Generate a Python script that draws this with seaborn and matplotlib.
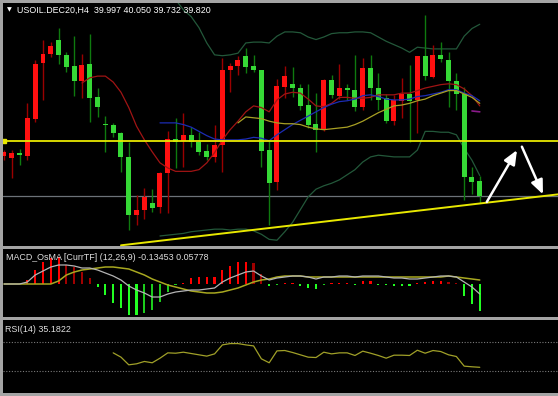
#!/usr/bin/env python
# -*- coding: utf-8 -*-
"""
USOIL.DEC20 H4 chart with MACD_OsMA and RSI panes
"""
import numpy as np
import matplotlib
matplotlib.use("Agg")
import matplotlib.pyplot as plt
import seaborn as sns

# + candles, oldest first
opens = [40.29, 40.27, 40.33, 40.29, 40.73, 41.38, 41.49, 41.66, 41.48, 41.35,
         41.17, 41.37, 40.98, 40.67, 40.66, 40.56, 40.28, 39.60, 39.66, 39.74,
         39.69, 40.09, 40.49, 40.47, 40.54, 40.46, 40.35, 40.28, 40.42, 41.30,
         41.35, 41.47, 41.35, 41.30, 40.36, 39.98, 41.10, 41.14, 41.09, 40.89,
         40.67, 40.60, 41.18, 41.00, 41.09, 41.07, 40.87, 41.33, 41.09, 40.97,
         40.70, 40.94, 41.02, 40.95, 41.47, 41.22, 41.48, 41.42, 41.17, 41.02,
         40.04, 39.997]
highs = [40.36, 40.36, 40.37, 40.91, 41.42, 41.66, 41.63, 41.80, 41.51, 41.70,
         41.49, 41.73, 41.09, 40.76, 40.68, 40.57, 40.46, 39.83, 39.91, 39.90,
         40.10, 40.58, 40.74, 40.80, 40.63, 40.57, 40.43, 40.66, 41.44, 41.38,
         41.47, 41.56, 41.48, 41.30, 40.47, 41.20, 41.35, 41.34, 41.14, 41.14,
         41.03, 41.20, 41.24, 41.37, 41.14, 41.48, 41.44, 41.48, 41.27, 41.02,
         41.01, 41.21, 41.36, 41.47, 41.95, 41.60, 41.63, 41.51, 41.27, 41.10,
         40.16, 40.050]
lows = [40.24, 40.03, 40.18, 40.24, 40.69, 40.95, 41.46, 41.37, 41.28, 41.00,
        40.97, 40.69, 40.75, 40.34, 40.51, 40.10, 39.42, 39.48, 39.55, 39.63,
        39.62, 39.62, 40.15, 40.16, 40.40, 40.30, 40.24, 40.22, 40.10, 41.04,
        41.24, 41.27, 41.28, 40.16, 39.48, 39.89, 40.97, 40.98, 40.83, 40.62,
        40.34, 40.58, 40.97, 40.96, 40.95, 40.82, 40.83, 40.95, 40.83, 40.68,
        40.66, 40.74, 40.46, 40.56, 41.18, 41.21, 41.40, 40.87, 40.83, 39.77,
        39.84, 39.732]
closes = [40.34, 40.33, 40.30, 40.74, 41.37, 41.49, 41.58, 41.48, 41.34, 41.17,
          41.36, 40.97, 40.87, 40.66, 40.56, 40.28, 39.60, 39.66, 39.81, 39.68,
          40.09, 40.49, 40.46, 40.54, 40.46, 40.34, 40.28, 40.42, 41.30, 41.35,
          41.42, 41.34, 41.30, 40.35, 39.97, 41.11, 41.23, 41.09, 40.88, 40.66,
          40.60, 41.18, 41.01, 41.09, 41.07, 40.87, 41.33, 41.09, 40.95, 40.70,
          40.95, 41.02, 40.94, 41.47, 41.23, 41.48, 41.43, 41.17, 41.02, 40.04,
          39.98, 39.820]

# + moving averages (start bar)
ma_red_start = 10
ma_red = [41.15, 41.21, 41.23, 41.23, 41.16, 41.04, 40.86, 40.64, 40.48, 40.34,
          40.21, 40.15, 40.11, 40.11, 40.11, 40.13, 40.21, 40.33, 40.48, 40.60,
          40.70, 40.81, 40.88, 40.86, 40.81, 40.95, 41.02, 41.04, 41.03, 40.96,
          40.88, 40.87, 40.91, 40.98, 40.98, 40.97, 40.97, 40.98, 41.01, 41.01,
          41.01, 41.03, 41.03, 41.06, 41.09, 41.11, 41.13, 41.14, 41.13, 41.08,
          41.00, 40.88]
ma_blue_start = 20
ma_blue = [40.68, 40.68, 40.68, 40.66, 40.63, 40.58, 40.53, 40.49, 40.48, 40.48,
           40.48, 40.49, 40.51, 40.50, 40.47, 40.54, 40.60, 40.66, 40.71, 40.76,
           40.81, 40.86, 40.90, 40.93, 40.94, 40.96, 41.00, 41.01, 40.99, 40.96,
           40.95, 40.95, 40.96, 40.99, 41.00, 41.02, 41.04, 41.07, 41.07, 41.03,
           41.00, 40.94]
ma_olive_start = 30
ma_olive = [40.68, 40.75, 40.74, 40.73, 40.70, 40.68, 40.67, 40.67, 40.66, 40.63,
            40.61, 40.60, 40.61, 40.62, 40.63, 40.66, 40.70, 40.75, 40.80, 40.84,
            40.88, 40.89, 40.91, 40.94, 40.96, 41.00, 41.03, 41.06, 41.06, 41.02,
            40.98, 40.91]
ma_purple_start = 60
ma_purple = [40.82, 40.81]

# + bollinger bands
bb_upper_start = 22
bb_upper = [42.13, 42.01, 41.93, 41.80, 41.62, 41.48, 41.47, 41.48, 41.50, 41.62,
            41.63, 41.63, 41.62, 41.70, 41.75, 41.75, 41.74, 41.69, 41.66, 41.69,
            41.73, 41.74, 41.74, 41.75, 41.75, 41.74, 41.69, 41.64, 41.60, 41.56,
            41.51, 41.57, 41.56, 41.55, 41.55, 41.55, 41.55, 41.70, 41.79, 41.84]
bb_lower_start = 20
bb_lower = [39.35, 39.36, 39.37, 39.38, 39.40, 39.41, 39.42, 39.43, 39.43, 39.42,
            39.43, 39.43, 39.41, 39.37, 39.31, 39.30, 39.40, 39.51, 39.66, 39.81,
            39.90, 39.94, 39.97, 40.01, 40.07, 40.13, 40.22, 40.28, 40.30, 40.29,
            40.28, 40.28, 40.28, 40.36, 40.58, 40.58, 40.57, 40.57, 40.54, 40.38,
            40.24, 40.06]

# + drawn objects
level_yellow = 40.47
level_bid = 39.82
trend_bars = [15, 61]
trend_prices = [39.24, 39.732]
arrow_up = [(61.9, 39.75), (65.77, 40.36)]
arrow_down = [(66.4, 40.40), (69.1, 39.84)]

# + MACD_OsMA
osma = [0, 0, 0, 0.020, 0.070, 0.110, 0.130, 0.135, 0.095, 0.085,
        0.060, 0.030, -0.015, -0.055, -0.095, -0.120, -0.155, -0.155, -0.145, -0.130,
        -0.090, -0.040, -0.005, 0.005, 0.030, 0.035, 0.035, 0.035, 0.070, 0.090,
        0.110, 0.110, 0.105, 0.050, -0.010, -0.005, 0.005, 0.005, -0.010, -0.020,
        -0.025, -0.005, 0.005, 0.005, 0.005, -0.005, 0.015, 0.015, -0.005, -0.005,
        -0.010, -0.010, -0.010, 0.005, 0.010, 0.015, 0.015, 0.010, 0.003, -0.060,
        -0.100, -0.1345]
macd_main = [0, 0, 0, 0.010, 0.045, 0.065, 0.085, 0.095, 0.095, 0.090,
             0.080, 0.080, 0.070, 0.055, 0.040, 0.020, -0.010, -0.030, -0.045, -0.065,
             -0.065, -0.050, -0.040, -0.035, -0.030, -0.030, -0.025, -0.020, 0.010, 0.030,
             0.045, 0.060, 0.065, 0.040, 0.020, 0.030, 0.035, 0.040, 0.040, 0.035,
             0.025, 0.035, 0.035, 0.040, 0.040, 0.035, 0.040, 0.040, 0.040, 0.035,
             0.030, 0.030, 0.025, 0.025, 0.030, 0.035, 0.040, 0.040, 0.035, 0.010,
             -0.015, -0.050]
macd_signal = [0, 0, 0, 0, 0, 0, 0, 0.015, 0.045, 0.060,
               0.070, 0.075, 0.080, 0.085, 0.085, 0.080, 0.075, 0.060, 0.045, 0.025,
               0.010, -0.005, -0.015, -0.025, -0.035, -0.040, -0.045, -0.045, -0.040, -0.030,
               -0.020, -0.005, 0.010, 0.020, 0.025, 0.035, 0.040, 0.040, 0.040, 0.035,
               0.035, 0.035, 0.035, 0.035, 0.035, 0.035, 0.035, 0.035, 0.035, 0.035,
               0.035, 0.035, 0.035, 0.035, 0.035, 0.035, 0.035, 0.040, 0.035, 0.030,
               0.025, 0.020]

# + RSI(14)
rsi_start = 14
rsi = [55.0, 49.1, 38.6, 40.0, 43.2, 41.4, 47.7, 55.0, 54.5, 55.9,
       54.1, 52.3, 50.5, 53.6, 65.9, 67.7, 67.7, 65.9, 64.5, 46.8,
       41.4, 57.7, 58.2, 55.5, 52.3, 49.1, 48.6, 55.9, 53.6, 55.0,
       55.0, 51.4, 57.3, 54.5, 51.4, 47.7, 51.8, 51.8, 51.4, 58.6,
       54.5, 58.2, 56.8, 52.3, 50.0, 36.8, 35.9, 35.2]

title_text = "USOIL.DEC20,H4  39.997 40.050 39.732 39.820"
macd_text = "MACD_OsMA [CurrTF] (12,26,9) -0.13453 0.05778"
rsi_text = "RSI(14) 35.1822"

# + style
sns.set_theme(style="dark", rc={
    "axes.facecolor": "black",
    "figure.facecolor": "#a4a4a4",
})
plt.rcParams["font.family"] = ["Liberation Sans", "DejaVu Sans"]

W, H = 558, 396
XLIM = (-0.128, 71.03)

fig = plt.figure(figsize=(W / 100, H / 100), dpi=100)


def pane(top_px, bottom_px):
    ax = fig.add_axes([3 / W, 1 - bottom_px / H, 1 - 3 / W, (bottom_px - top_px) / H])
    ax.set_facecolor("black")
    ax.set_xlim(*XLIM)
    ax.set_xticks([])
    ax.set_yticks([])
    for s in ax.spines.values():
        s.set_visible(False)
    return ax


ax_main = pane(3, 246)
ax_macd = pane(249, 317)
ax_rsi = pane(320, 393)

# + main pane
idx = np.arange(len(opens))
o = np.array(opens)
c = np.array(closes)
bull = c >= o
body_col = np.where(bull, "#ff1010", "#36d936")
wick_col = np.where(bull, "#9a0000", "#0f7a0f")

ax_main.vlines(idx, lows, highs, colors=wick_col, linewidth=1.0, zorder=3)
ax_main.bar(idx, np.maximum(np.abs(c - o), 0.012), bottom=np.minimum(o, c),
            width=0.64, color=body_col, linewidth=0, zorder=4)


def line(ax, start, vals, color, lw=0.9, z=5):
    sns.lineplot(x=np.arange(start, start + len(vals)), y=vals, ax=ax,
                 color=color, linewidth=lw, zorder=z, legend=False)


line(ax_main, bb_upper_start, bb_upper, "#23583a", z=2)
line(ax_main, bb_lower_start, bb_lower, "#23583a", z=2)
line(ax_main, ma_red_start, ma_red, "#a01414")
line(ax_main, ma_blue_start, ma_blue, "#1c2cb4")
line(ax_main, ma_olive_start, ma_olive, "#a8a024")
line(ax_main, ma_purple_start, ma_purple, "#8a1a8a", lw=1.2)

ax_main.axhline(level_yellow, color="#e8e800", linewidth=1.3, zorder=6)
ax_main.plot([0], [level_yellow], marker="s", markersize=3, color="#e8e800", zorder=7)
ax_main.axhline(level_bid, color="#6c7278", linewidth=0.9, zorder=1)

slope = (trend_prices[1] - trend_prices[0]) / (trend_bars[1] - trend_bars[0])
tx = [trend_bars[0], XLIM[1]]
ty = [trend_prices[0], trend_prices[0] + slope * (XLIM[1] - trend_bars[0])]
ax_main.plot(tx, ty, color="#e8e800", linewidth=1.4, zorder=6)

for a in (arrow_up, arrow_down):
    ax_main.annotate("", xy=a[1], xytext=a[0],
                     arrowprops=dict(arrowstyle="-|>,head_length=0.7,head_width=0.3",
                                     color="white", lw=1.8, shrinkA=0, shrinkB=0),
                     zorder=8)

ax_main.set_ylim(39.232, 42.09)

# + MACD pane
hist = np.array(osma)
prev = np.concatenate([[0], hist[:-1]])
hist_col = np.where(hist >= 0,
                    np.where(hist >= prev, "#ff0000", "#a00000"),
                    np.where(hist <= prev, "#22ff22", "#1ccc1c"))
ax_macd.bar(idx, hist, width=0.28, color=hist_col, linewidth=0, zorder=3)
line(ax_macd, 0, macd_signal, "#a8a820", lw=1.1)
line(ax_macd, 0, macd_main, "#b4b4b4", lw=0.9)
ax_macd.set_ylim(-0.165, 0.175)

# + RSI pane
for lvl in (70, 30):
    ax_rsi.axhline(lvl, color="#7a7a7a", linewidth=0.8, linestyle=(0, (1, 1.5)))
line(ax_rsi, rsi_start, rsi, "#a0a028", lw=0.9)
ax_rsi.set_ylim(0, 100)

for ax in (ax_main, ax_macd, ax_rsi):
    ax.set_xlabel("")
    ax.set_ylabel("")
    ax.set_xlim(*XLIM)

# + labels
fig.text(7 / W, 1 - 10 / H, "\u25bc", color="white", fontsize=4.5, va="center",
         family=["DejaVu Sans"])
fig.text(17 / W, 1 - 10 / H, title_text, color="white", fontsize=6.4, va="center")
fig.text(6 / W, 1 - 257 / H, macd_text, color="#e0e0e0", fontsize=6.4, va="center")
fig.text(5 / W, 1 - 330 / H, rsi_text, color="#e0e0e0", fontsize=6.4, va="center")

fig.savefig("out.png", dpi=100, facecolor=fig.get_facecolor())
plt.close(fig)
